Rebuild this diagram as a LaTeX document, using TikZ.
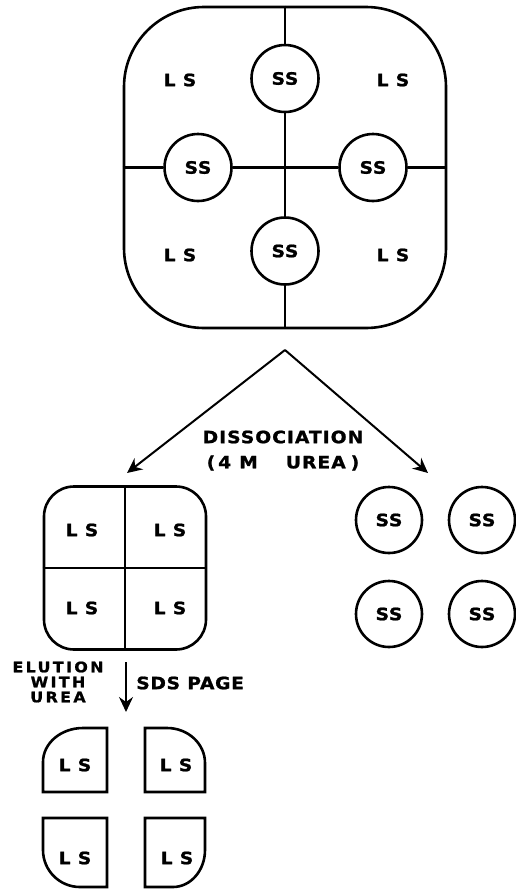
\documentclass[tikz,border=0pt]{standalone}
\usepackage{fontspec}
\usetikzlibrary{arrows.meta}
\newfontfamily\labfont{DejaVu Sans Bold}[FakeStretch=1.1, FakeBold=1.2, LetterSpace=4]

\begin{document}
\begin{tikzpicture}[
  x = 1pt, y = -1pt,
  line width = 2.6pt,
  lab/.style = {inner sep = 0pt, font = \labfont\fontsize{17}{15}\selectfont},
  spaced/.style = {inner sep = 0pt, font = \labfont\fontsize{17}{15}\selectfont\addfontfeature{LetterSpace=6}},
  small/.style = {inner sep = 0pt, font = \labfont\fontsize{14.5}{15}\selectfont\addfontfeature{LetterSpace=16}},
  sub/.style = {lab, draw, circle, minimum size = 67pt},
  arr/.style = {line width = 2pt, -{Stealth[length = 15pt, width = 14pt, inset = 5pt]}},
  ]
  \useasboundingbox (0,0) rectangle (515,892);

  \node[draw, rounded corners = 80pt, minimum width = 322pt, minimum height = 321pt] (whole) at (285,167.5) {};
  \node[sub] (sst) at (285,78.5) {SS};
  \node[sub] (ssl) at (198,167.5) {SS};
  \node[sub] (ssr) at (373,167.5) {SS};
  \node[sub] (ssb) at (285,251) {SS};
  \draw (whole.north) -- (sst) -- (ssb) -- (whole.south);
  \draw (whole.west) -- (ssl) -- (ssr) -- (whole.east);
  \node[lab] (ls1) at (180,80) {L S};
  \node[lab] (ls2) at (393,80) {L S};
  \node[lab] (ls3) at (180,255) {L S};
  \node[lab] (ls4) at (393,255) {L S};

  \coordinate (apex) at (285,350);
  \coordinate (tipl) at (127,473);
  \coordinate (tipr) at (428,473);
  \draw[arr] (apex) -- (tipl);
  \draw[arr] (apex) -- (tipr);
  \node[spaced] (dis) at (283,437) {DISSOCIATION};
  \node[spaced] (urea) at (283,463) {(\hspace{3pt}4\hspace{8pt}M\hspace{28pt}UREA\hspace{5pt})};

  \node[draw, rounded corners = 30pt, minimum width = 162pt, minimum height = 163pt] (lsq) at (125,568) {};
  \draw (lsq.north) -- (lsq.south) (lsq.west) -- (lsq.east);
  \node[lab] (ls5) at (82,530) {L S};
  \node[lab] (ls6) at (170,530) {L S};
  \node[lab] (ls7) at (82,608) {L S};
  \node[lab] (ls8) at (170,608) {L S};

  \node[sub, minimum size = 66pt] (ss5) at (389,520) {SS};
  \node[sub, minimum size = 66pt] (ss6) at (482,520) {SS};
  \node[sub, minimum size = 66pt] (ss7) at (389,614) {SS};
  \node[sub, minimum size = 66pt] (ss8) at (482,614) {SS};

  \coordinate (dtop) at (126,662);
  \coordinate (dtip) at (126,712);
  \draw[arr] (dtop) -- (dtip);
  \node[small, align = center] (elu) at (58,682) {ELUTION\\WITH\\UREA};
  \node[lab, anchor = west] (sds) at (135,683) {SDS PAGE};

  \draw (107,792) -- (43,792) -- (43,762) arc[start angle = 180, end angle = 270, x radius = 40, y radius = 34] -- (107,728) -- cycle;
  \draw (145,792) -- (145,728) -- (167,728) arc[start angle = 270, end angle = 360, x radius = 38, y radius = 35] -- (205,792) -- cycle;
  \draw (43,818) -- (107,818) -- (107,887) -- (80,887) arc[start angle = 90, end angle = 180, x radius = 37, y radius = 37] -- cycle;
  \draw (145,818) -- (205,818) -- (205,850) arc[start angle = 0, end angle = 90, x radius = 32, y radius = 37] -- (145,887) -- cycle;
  \node[lab] (ls9) at (75,765) {L S};
  \node[lab] (ls10) at (176,765) {L S};
  \node[lab] (ls11) at (75,858) {L S};
  \node[lab] (ls12) at (177,858) {L S};
\end{tikzpicture}
\end{document}
